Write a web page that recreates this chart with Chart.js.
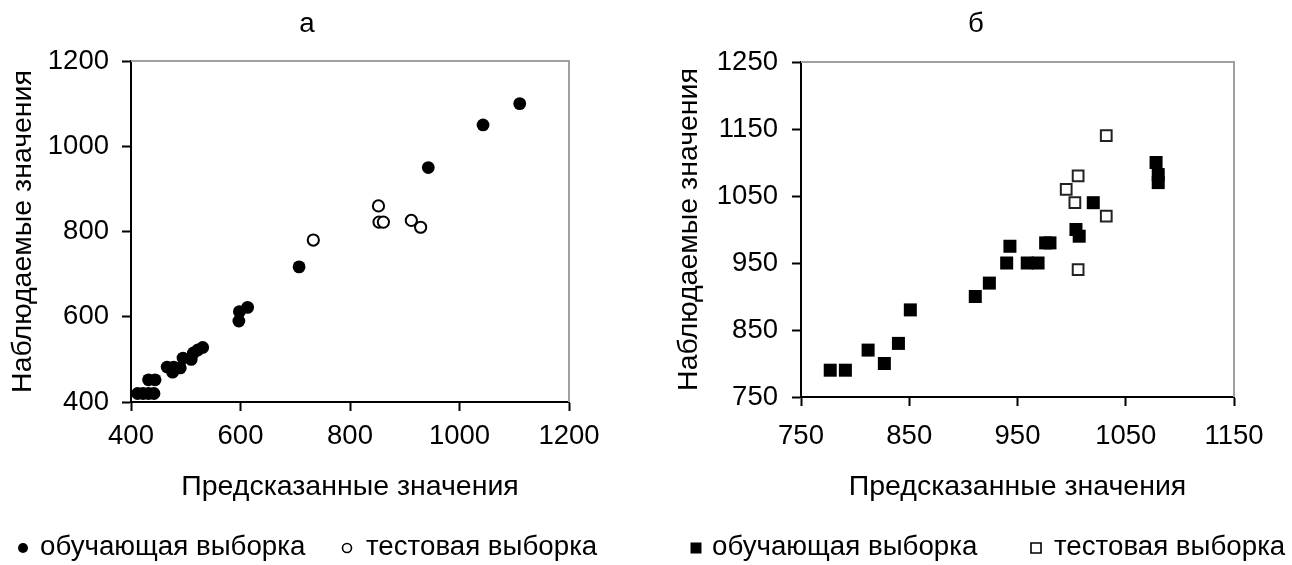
<!DOCTYPE html>
<html>
<head>
<meta charset="utf-8">
<script src="https://cdn.jsdelivr.net/npm/chart.js@4.4.1/dist/chart.umd.min.js"></script>
<style>
  html, body { margin: 0; padding: 0; background: #fff; overflow: hidden; }
  #wrap { position: relative; width: 1292px; height: 565px; }
  canvas { position: absolute; top: 0; }
  #panelA { left: 0; }
  #panelB { left: 646px; }
</style>
</head>
<body>
<div id="wrap">
  <canvas id="panelA" width="646" height="565"></canvas>
  <canvas id="panelB" width="646" height="565"></canvas>
</div>
<script>
const FONT = "'Liberation Sans', Arial, Helvetica, sans-serif";

// ---- Panel "а": predicted (x) vs observed (y) ----
const aTrainX = [412, 422, 432, 442, 432, 444, 466, 476, 478, 490, 495, 510, 514, 522, 531, 597, 598, 613, 707, 943, 1043, 1110];
const aTrainY = [420, 420, 420, 420, 452, 452, 482, 470, 482, 480, 503, 500, 515, 522, 528, 590, 612, 622, 717, 950, 1050, 1100];
const aTestX  = [733, 852, 853, 861, 912, 929];
const aTestY  = [780, 860, 822, 822, 826, 810];
const aTicks  = { min: 400, max: 1200, step: 200 };

// ---- Panel "б" ----
const bTrainX = [777, 791, 812, 827, 840, 851, 911, 924, 940, 943, 959, 969, 976, 980, 1004, 1007, 1020, 1078, 1080, 1080];
const bTrainY = [790, 790, 820, 800, 830, 880, 900, 920, 950, 975, 950, 950, 980, 980, 1000, 990, 1040, 1100, 1082, 1070];
const bTestX  = [1032, 1006, 995, 1003, 1032, 1006];
const bTestY  = [1140, 1080, 1060, 1040, 1020, 940];
const bXTicks = { min: 750, max: 1150, step: 100 };
const bYTicks = { min: 750, max: 1250, step: 100 };

const LABEL_X = 'Предсказанные значения';
const LABEL_Y = 'Наблюдаемые значения';
const SERIES  = ['обучающая выборка', 'тестовая выборка'];

const TICK_SIZE  = 27.5;
const TITLE_SIZE = 28.5;
const TEXT_SIZE  = 27.7;

function pts(xs, ys) { return xs.map((x, i) => ({ x: x, y: ys[i] })); }

// grey frame on the top and right sides of the plot area
const framePlugin = {
  id: 'frame',
  beforeDatasetsDraw(chart) {
    const { ctx, chartArea: a } = chart;
    ctx.save();
    ctx.strokeStyle = '#a0a0a0';
    ctx.lineWidth = 2;
    ctx.beginPath();
    ctx.moveTo(a.left, a.top);
    ctx.lineTo(a.right, a.top);
    ctx.lineTo(a.right, a.bottom);
    ctx.stroke();
    ctx.restore();
  }
};

function drawMark(ctx, m, y) {
  ctx.save();
  ctx.fillStyle = m.filled ? '#000' : '#fff';
  ctx.strokeStyle = '#000';
  ctx.lineWidth = 1.6;
  ctx.beginPath();
  if (m.shape === 'circle') {
    ctx.arc(m.x, y, m.size / 2, 0, Math.PI * 2);
  } else {
    ctx.rect(m.x - m.size / 2, y - m.size / 2, m.size, m.size);
  }
  ctx.fill();
  if (!m.filled) ctx.stroke();
  ctx.restore();
}

// panel letter and the legend row underneath
const panelTextPlugin = {
  id: 'panelText',
  afterDraw(chart, args, o) {
    const ctx = chart.ctx;
    ctx.save();
    ctx.fillStyle = '#000';
    ctx.font = TEXT_SIZE + 'px ' + FONT;
    ctx.textBaseline = 'middle';
    ctx.textAlign = 'center';
    ctx.fillText(o.title, o.titleX, o.titleY);
    ctx.textAlign = 'left';
    o.items.forEach(it => {
      drawMark(ctx, it, o.legendY + 1);
      ctx.fillText(it.text, it.tx, o.legendY);
    });
    ctx.restore();
  }
};

function axis(range, cfg) {
  return {
    type: 'linear',
    min: range.min,
    max: range.max,
    ticks: {
      stepSize: range.step,
      color: '#000',
      font: { family: FONT, size: TICK_SIZE },
      padding: cfg.pad,
      callback: v => String(v)
    },
    grid: {
      drawOnChartArea: false,
      drawTicks: true,
      tickLength: 9,
      tickWidth: 2,
      tickColor: '#000'
    },
    border: { color: '#000', width: 2 },
    title: {
      display: true,
      text: cfg.title,
      color: '#000',
      font: { family: FONT, size: TITLE_SIZE },
      padding: cfg.titlePad
    },
    afterFit(s) {
      if (cfg.width !== undefined) s.width = cfg.width;
      if (cfg.height !== undefined) s.height = cfg.height;
    }
  };
}

function makePanel(id, p) {
  return new Chart(document.getElementById(id), {
    type: 'scatter',
    data: { datasets: p.datasets },
    options: {
      responsive: false,
      animation: false,
      devicePixelRatio: 1,
      layout: { padding: p.padding },
      plugins: {
        legend: { display: false },
        tooltip: { enabled: false },
        title: { display: false },
        panelText: p.text
      },
      scales: {
        x: axis(p.xRange, p.xCfg),
        y: axis(p.yRange, p.yCfg)
      }
    },
    plugins: [framePlugin, panelTextPlugin]
  });
}

makePanel('panelA', {
  datasets: [
    { label: SERIES[0], data: pts(aTrainX, aTrainY), pointStyle: 'circle', pointRadius: 6.4,
      backgroundColor: '#000', borderColor: '#000', borderWidth: 0 },
    { label: SERIES[1], data: pts(aTestX, aTestY), pointStyle: 'circle', pointRadius: 5.6,
      backgroundColor: '#fff', borderColor: '#000', borderWidth: 2 }
  ],
  padding: { left: 0, top: 61, right: 77, bottom: 61 },
  xRange: aTicks,
  yRange: aTicks,
  xCfg: { title: LABEL_X, pad: 9, height: 102, titlePad: { top: 0, bottom: 0 } },
  yCfg: { title: LABEL_Y, pad: 13, width: 131, titlePad: { top: 6, bottom: 0 } },
  text: {
    title: 'а', titleX: 307, titleY: 24, legendY: 547,
    items: [
      { shape: 'circle', filled: true,  x: 23,  size: 10, text: SERIES[0], tx: 40 },
      { shape: 'circle', filled: false, x: 347, size: 9,  text: SERIES[1], tx: 366 }
    ]
  }
});

makePanel('panelB', {
  datasets: [
    { label: SERIES[0], data: pts(bTrainX, bTrainY), pointStyle: 'rect', pointRadius: 9.2,
      backgroundColor: '#000', borderColor: '#000', borderWidth: 0 },
    { label: SERIES[1], data: pts(bTestX, bTestY), pointStyle: 'rect', pointRadius: 7.6,
      backgroundColor: '#fff', borderColor: '#222', borderWidth: 2 }
  ],
  padding: { left: 0, top: 62, right: 58, bottom: 61 },
  xRange: bXTicks,
  yRange: bYTicks,
  xCfg: { title: LABEL_X, pad: 14, height: 107, titlePad: { top: 0, bottom: 0 } },
  yCfg: { title: LABEL_Y, pad: 14, width: 155, titlePad: { top: 26, bottom: 0 } },
  text: {
    title: 'б', titleX: 330, titleY: 24, legendY: 547,
    items: [
      { shape: 'rect', filled: true,  x: 50,  size: 11, text: SERIES[0], tx: 66 },
      { shape: 'rect', filled: false, x: 390, size: 10, text: SERIES[1], tx: 408 }
    ]
  }
});
</script>
</body>
</html>
